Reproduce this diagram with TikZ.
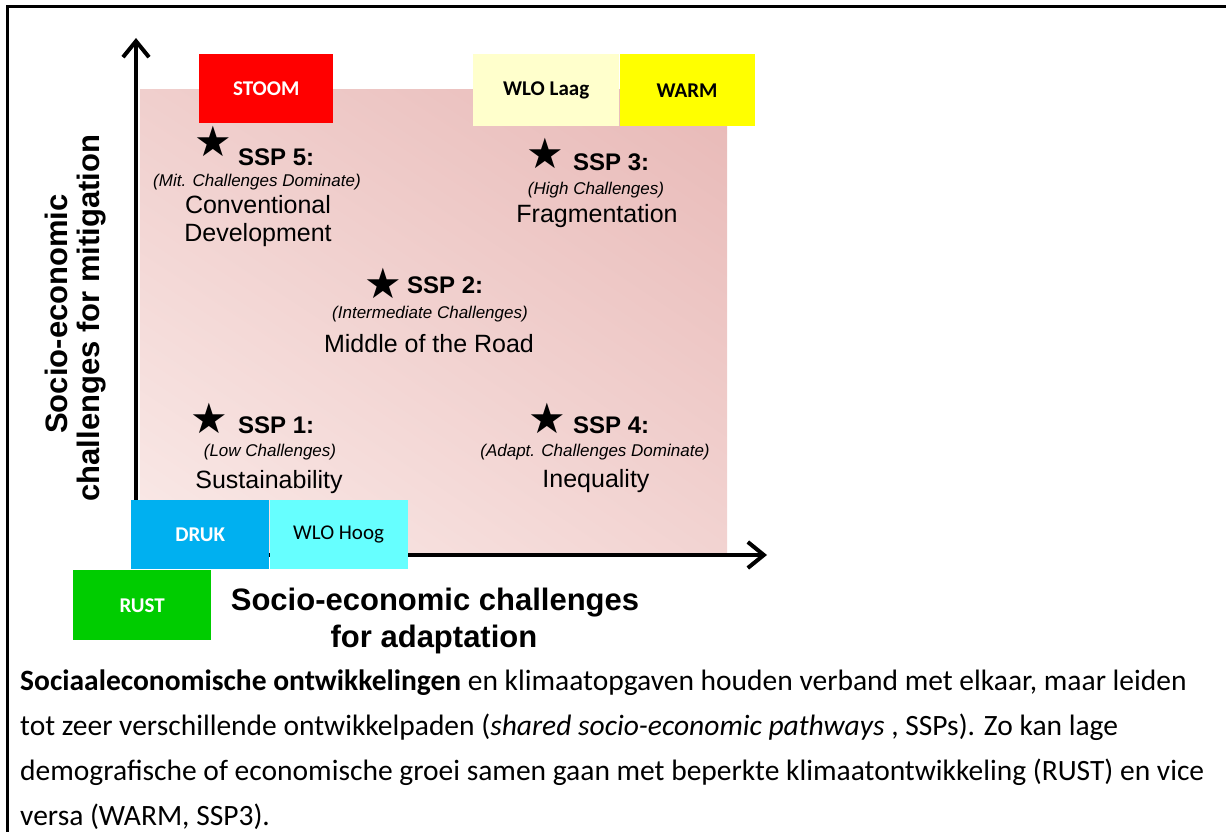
\documentclass[tikz,border=0pt]{standalone}
\usepackage{fontspec}
\setmainfont{Carlito}
\newfontfamily\arialfont{Liberation Sans}
\newfontfamily\starfont{DejaVu Sans}
\usetikzlibrary{positioning,arrows.meta,shadings}

\definecolor{stoomred}{HTML}{FF0000}
\definecolor{laagyellow}{HTML}{FFFFCC}
\definecolor{warmyellow}{HTML}{FFFF00}
\definecolor{drukblue}{HTML}{00B0F0}
\definecolor{hoogcyan}{HTML}{66FFFF}
\definecolor{rustgreen}{HTML}{00CC00}
\definecolor{pinkUL}{RGB}{240,207,205}
\definecolor{pinkUR}{RGB}{232,185,183}
\definecolor{pinkLL}{RGB}{250,234,232}
\definecolor{pinkLR}{RGB}{242,211,209}

\tikzstyle{frame}   = [line width=3pt]
\tikzstyle{axis}    = [line width=4pt, {Straight Barb[length=16pt,width=26pt]}-{Straight Barb[length=16pt,width=26pt]}]
\tikzstyle{tag}     = [inner sep=0pt, font=\bfseries\fontsize{21}{25}\selectfont]
\tikzstyle{star}    = [inner sep=0pt, font=\starfont\fontsize{42}{46}\selectfont]
\tikzstyle{ssphead} = [inner sep=0pt, anchor=base west, font=\arialfont\bfseries\fontsize{24}{28}\selectfont]
\tikzstyle{sspsub}  = [inner sep=0pt, anchor=base, font=\arialfont\itshape\fontsize{17}{20}\selectfont]
\tikzstyle{sspname} = [inner sep=0pt, anchor=base, font=\arialfont\fontsize{25}{29}\selectfont]
\tikzstyle{axlabel} = [inner sep=0pt, anchor=base, font=\arialfont\bfseries\fontsize{31}{36}\selectfont]
\tikzstyle{caption} = [inner sep=0pt, anchor=base west, font=\fontsize{29.5}{37}\selectfont]

\begin{document}
\begin{tikzpicture}[x=1pt,y=-1pt]
        \useasboundingbox (0,0) rectangle (1226,832);
        \draw[frame] (1226,7) -- (7,7) -- (7,832);

        % quadrant background
        \shade[upper left=pinkUL, upper right=pinkUR, lower left=pinkLL, lower right=pinkLR] (140,90) rectangle (727,553);

        % axes
        \coordinate (origin) at (136,555);
        \coordinate (ytip) at (136,38);
        \coordinate (xtip) at (767,555);
        \draw[axis] (ytip) -- (origin) -- (xtip);

        \node[axlabel] (xlabA) at (435,610) {Socio-economic challenges};
        \node[axlabel] (xlabB) at (434,647) {for adaptation};
        \node[axlabel, rotate=90] (ylabA) at (67,314) {Socio-economic};
        \node[axlabel, rotate=90] (ylabB) at (99,318) {challenges for mitigation};

        % scenario tags
        \node[tag, fill=stoomred, text=white, minimum width=134pt, minimum height=69pt, anchor=north west] (stoom) at (199,54) {STOOM};
        \node[tag, fill=laagyellow, minimum width=146pt, minimum height=72pt, anchor=north west] (wlolaag) at (473,54) {WLO Laag};
        \node[tag, fill=warmyellow, minimum width=135pt, minimum height=72pt, right=0pt of wlolaag] (warm) {WARM};
        \node[tag, fill=drukblue, text=white, minimum width=138pt, minimum height=69pt, anchor=north west] (druk) at (131,500) {DRUK};
        \node[tag, font=\fontsize{21}{25}\selectfont, fill=hoogcyan, minimum width=138pt, minimum height=69pt, right=0pt of druk] (wlohoog) {WLO Hoog};
        \node[tag, fill=rustgreen, text=white, minimum width=138pt, minimum height=70pt, anchor=north west] (rust) at (73,570) {RUST};

        % SSP 5
        \node[star] (starV) at (213,141) {★};
        \node[ssphead] (sspV) at (238,165) {SSP 5:};
        \node[sspsub] (subV) at (257,186) {(Mit. Challenges Dominate)};
        \node[sspname] (nameVa) at (258,213) {Conventional};
        \node[sspname] (nameVb) at (258,241) {Development};

        % SSP 3
        \node[star] (starIII) at (545,153) {★};
        \node[ssphead] (sspIII) at (573,170) {SSP 3:};
        \node[sspsub] (subIII) at (596,194) {(High Challenges)};
        \node[sspname] (nameIII) at (597,222) {Fragmentation};

        % SSP 2
        \node[star] (starII) at (383,283) {★};
        \node[ssphead] (sspII) at (407,293) {SSP 2:};
        \node[sspsub] (subII) at (430,318) {(Intermediate Challenges)};
        \node[sspname] (nameII) at (429,352) {Middle of the Road};

        % SSP 1
        \node[star] (starI) at (209,418) {★};
        \node[ssphead] (sspI) at (238,433) {SSP 1:};
        \node[sspsub] (subI) at (270,456) {(Low Challenges)};
        \node[sspname] (nameI) at (269,488) {Sustainability};

        % SSP 4
        \node[star] (starIV) at (547,418) {★};
        \node[ssphead] (sspIV) at (573,433) {SSP 4:};
        \node[sspsub] (subIV) at (595,456) {(Adapt. Challenges Dominate)};
        \node[sspname] (nameIV) at (596,487) {Inequality};

        % caption
        \node[caption] (capA) at (20,690) {\textbf{Sociaaleconomische ontwikkelingen} en klimaatopgaven houden verband met elkaar, maar leiden};
        \node[caption] (capB) at (20,735) {tot zeer verschillende ontwikkelpaden (\textit{shared socio-economic pathways} , SSPs). Zo kan lage};
        \node[caption] (capC) at (20,780) {demografische of economische groei samen gaan met beperkte klimaatontwikkeling (RUST) en vice};
        \node[caption] (capD) at (20,825) {versa (WARM, SSP3).};
\end{tikzpicture}
\end{document}
